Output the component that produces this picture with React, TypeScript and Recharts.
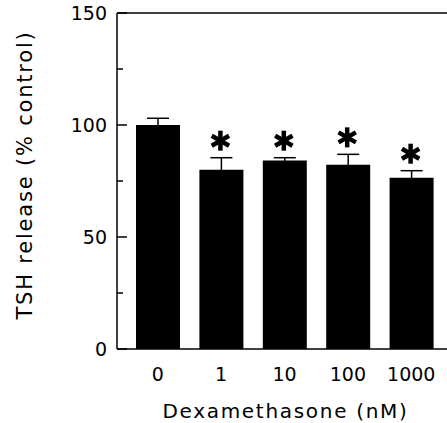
import React from 'react';
import { BarChart, Bar, XAxis, YAxis, ErrorBar, LabelList, ReferenceLine } from 'recharts';

const categories = ['0', '1', '10', '100', '1000'];
const release = [100, 80, 84.2, 82.3, 76.5];
const sem = [3, 5.4, 1.2, 4.6, 3.1];
const significant = [false, true, true, true, true];
const yTicks = [0, 25, 50, 75, 100, 125, 150];

const data = categories.map((c, i) => ({
  dose: c,
  release: release[i],
  err: sem[i],
  sig: significant[i],
}));

const FONT = 'DejaVu Sans, sans-serif';

const YTick = (props: any) => {
  const { x, y, payload } = props;
  const axisX = x + 10;
  const major = payload.value % 50 === 0;
  return (
    <g>
      <line x1={axisX} x2={axisX + (major ? 10 : 6)} y1={y} y2={y} stroke="#000" strokeWidth={1.5} />
      {major && (
        <text x={x} y={y} dy="0.36em" textAnchor="end" fontSize={19} fontFamily={FONT} fill="#000">
          {payload.value}
        </text>
      )}
    </g>
  );
};

const Asterisk = (props: any) => {
  const { x, y, width, height, index } = props;
  if (!data[index] || !data[index].sig) return null;
  const d = data[index];
  const pxPerUnit = height / d.release;
  const errTop = y - d.err * pxPerUnit;
  const cx = x + width / 2 - 1;
  const cy = errTop - 17;
  const r = 10;
  const dx = r * Math.cos(Math.PI / 6);
  const dy = r * Math.sin(Math.PI / 6);
  return (
    <g stroke="#000" strokeWidth={4.5}>
      <line x1={cx} y1={cy - r} x2={cx} y2={cy + r} />
      <line x1={cx - dx} y1={cy - dy} x2={cx + dx} y2={cy + dy} />
      <line x1={cx - dx} y1={cy + dy} x2={cx + dx} y2={cy - dy} />
    </g>
  );
};

const YTitle = (props: any) => {
  const vb = props.viewBox;
  const cx = vb.x + 25;
  const cy = vb.y + vb.height / 2 - 6;
  return (
    <text
      x={cx}
      y={cy}
      textAnchor="middle"
      dominantBaseline="central"
      transform={`rotate(-90, ${cx}, ${cy})`}
      fontSize={21}
      letterSpacing={1.8}
      fontFamily={FONT}
      fill="#000"
    >
      TSH release (% control)
    </text>
  );
};

const XTitle = (props: any) => {
  const vb = props.viewBox;
  const cx = vb.x + vb.width / 2 + 1;
  return (
    <text x={cx} y={418} textAnchor="middle" fontSize={20} letterSpacing={1.7} fontFamily={FONT} fill="#000">
      Dexamethasone (nM)
    </text>
  );
};

export default function App() {
  return (
    <div style={{ position: 'absolute', left: 0, top: 0, width: 447, height: 423, overflow: 'hidden', background: '#fff' }}>
      <BarChart
        width={460}
        height={423}
        data={data}
        margin={{ top: 13, right: 8, left: 0, bottom: 0 }}
        barSize={44}
      >
        <XAxis
          dataKey="dose"
          height={74}
          padding={{ left: 9, right: 9 }}
          tickLine={false}
          tickSize={0}
          tickMargin={19}
          axisLine={{ stroke: '#000', strokeWidth: 1.5 }}
          tick={{ fontSize: 19, fontFamily: FONT, fill: '#000' }}
          label={{ content: XTitle }}
        />
        <YAxis
          width={117}
          domain={[0, 150]}
          ticks={yTicks}
          interval={0}
          tickSize={0}
          tickMargin={10}
          tickLine={false}
          axisLine={{ stroke: '#000', strokeWidth: 1.5 }}
          tick={<YTick />}
          label={{ content: YTitle }}
        />
        <ReferenceLine y={150} stroke="#000" strokeWidth={1.5} ifOverflow="visible" />
        <Bar dataKey="release" fill="#000" isAnimationActive={false}>
          <ErrorBar dataKey="err" width={11} stroke="#000" strokeWidth={1.5} direction="y" />
          <LabelList dataKey="release" content={<Asterisk />} />
        </Bar>
      </BarChart>
    </div>
  );
}
